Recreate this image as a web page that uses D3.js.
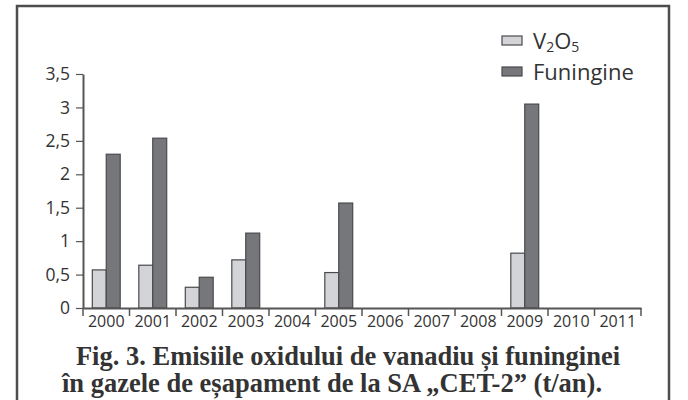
<!DOCTYPE html>
<html>
<head>
<meta charset="utf-8">
<script src="https://cdn.jsdelivr.net/npm/d3@7"></script>
<style>
  body { margin: 0; background: #fff; }
  svg { display: block; }
</style>
</head>
<body>
<div id="chart"></div>
<script>
// data (t/an)
var years = ["2000","2001","2002","2003","2004","2005","2006","2007","2008","2009","2010","2011"];
var v2o5 = [0.57, 0.64, 0.31, 0.72, null, 0.53, null, null, null, 0.82, null, null];
var funingine = [2.30, 2.54, 0.46, 1.12, null, 1.57, null, null, null, 3.05, null, null];
var seriesNames = ["V2O5", "Funingine"];
var yTicks = [0, 0.5, 1, 1.5, 2, 2.5, 3, 3.5];
var caption = ["Fig. 3. Emisiile oxidului de vanadiu și funinginei",
               "în gazele de eșapament de la SA „CET-2” (t/an)."];

var W = 688, H = 400;
var margin = {top: 74, left: 83, right: 47, bottom: 92};
var width = W - margin.left - margin.right,   // 558
    height = H - margin.top - margin.bottom;  // 234

var colors = ["#d3d4d8", "#76777b"];
var stroke = "#4a4a4c";

var svg = d3.select("#chart").append("svg")
    .attr("width", W).attr("height", H);

// outer frame (runs off the bottom of the picture)
svg.append("rect")
    .attr("x", 17).attr("y", 6)
    .attr("width", 652).attr("height", 420)
    .attr("fill", "none").attr("stroke", "#4d4d4f").attr("stroke-width", 2.5);

var g = svg.append("g").attr("transform", "translate(" + margin.left + "," + margin.top + ")");

var x = d3.scaleBand().domain(years).range([0, width]).padding(0);
var xInner = d3.scaleBand().domain([0, 1]).range([x.bandwidth() * 0.2, x.bandwidth() * 0.8]);
var y = d3.scaleLinear().domain([0, 3.5]).range([height, 0]);

var loc = d3.formatLocale({decimal: ",", thousands: ".", grouping: [3], currency: ["", ""]});
var fmt = function(d) { return loc.format("")(d); };

// bars
var rows = years.map(function(yr, i) { return {year: yr, vals: [v2o5[i], funingine[i]]}; });
var grp = g.selectAll(".yr").data(rows).enter().append("g")
    .attr("transform", function(d) { return "translate(" + x(d.year) + ",0)"; });
grp.selectAll("rect")
    .data(function(d) { return d.vals.map(function(v, k) { return {k: k, v: v}; }).filter(function(e) { return e.v != null; }); })
    .enter().append("rect")
    .attr("x", function(d) { return xInner(d.k); })
    .attr("width", xInner.bandwidth())
    .attr("y", function(d) { return y(d.v); })
    .attr("height", function(d) { return height - y(d.v); })
    .attr("fill", function(d) { return colors[d.k]; })
    .attr("stroke", stroke).attr("stroke-width", 1.2);

// y axis
var yAxis = g.append("g")
    .call(d3.axisLeft(y).tickValues(yTicks).tickFormat(fmt).tickSize(7).tickPadding(6).tickSizeOuter(0));
yAxis.select(".domain").attr("stroke", "#555").attr("stroke-width", 2);
yAxis.selectAll(".tick line").attr("stroke", "#555").attr("stroke-width", 1.2);
yAxis.selectAll("text").attr("font-family", "'Open Sans', sans-serif").attr("font-size", 17.5).attr("fill", "#333");

// x axis: labels centred, ticks at category boundaries
var xAxis = g.append("g").attr("transform", "translate(0," + height + ")")
    .call(d3.axisBottom(x).tickSize(0).tickPadding(8).tickSizeOuter(0));
xAxis.select(".domain").attr("stroke", "#555").attr("stroke-width", 2);
xAxis.selectAll("text").attr("font-family", "'Open Sans', sans-serif").attr("font-size", 16).attr("fill", "#333");
xAxis.selectAll(".bound").data(years.concat(["end"])).enter().append("line")
    .attr("class", "bound")
    .attr("x1", function(d) { return d === "end" ? width : x(d); })
    .attr("x2", function(d) { return d === "end" ? width : x(d); })
    .attr("y1", 0).attr("y2", 8)
    .attr("stroke", "#555").attr("stroke-width", 1.5);

// legend
var leg = svg.append("g").attr("transform", "translate(502,33)");
seriesNames.forEach(function(name, i) {
    var row = leg.append("g").attr("transform", "translate(0," + (i * 31) + ")");
    row.append("rect").attr("x", 0).attr("y", 3).attr("width", 20).attr("height", 9)
        .attr("fill", colors[i]).attr("stroke", stroke).attr("stroke-width", 1.2);
    var t = row.append("text").attr("x", 31).attr("y", 16)
        .attr("font-family", "'Open Sans', sans-serif").attr("font-size", 22).attr("fill", "#333");
    if (name === "V2O5") {
        t.append("tspan").text("V");
        t.append("tspan").text("2").attr("font-size", 14).attr("dy", 3);
        t.append("tspan").text("O").attr("dy", -3);
        t.append("tspan").text("5").attr("font-size", 14).attr("dy", 3);
    } else {
        t.text(name);
    }
});

// caption
var capX = [348, 332];
caption.forEach(function(line, i) {
    svg.append("text")
        .attr("x", capX[i]).attr("y", 365 + i * 27)
        .attr("text-anchor", "middle")
        .attr("font-family", "'Liberation Serif', serif").attr("font-weight", "bold")
        .attr("font-size", 26.5).attr("fill", "#333")
        .text(line);
});
</script>
</body>
</html>
